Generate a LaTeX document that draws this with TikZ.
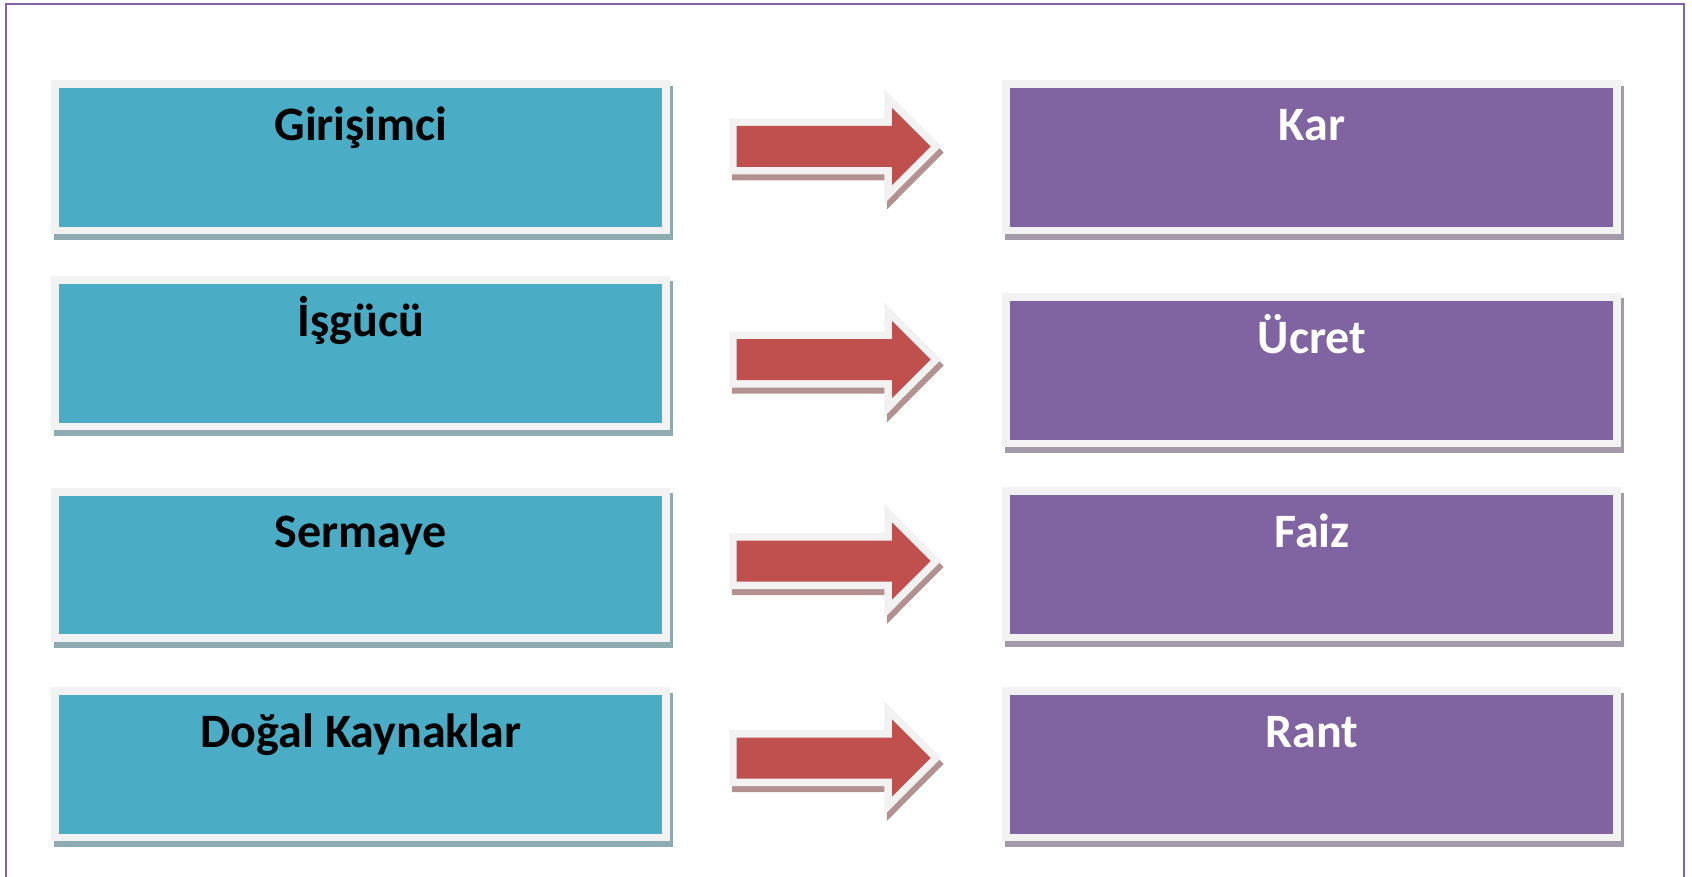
\documentclass[tikz,border=0pt]{standalone}
\usepackage{fontspec}
\setmainfont{Carlito}
\definecolor{tealA}{HTML}{4BACC6}
\definecolor{purpA}{HTML}{8064A2}
\definecolor{redA}{HTML}{C0504D}
\definecolor{rim}{HTML}{F2F2F2}
\definecolor{tealsh}{HTML}{8EAAB2}
\definecolor{purpsh}{HTML}{A299AA}
\definecolor{redsh}{HTML}{B39191}
\definecolor{framecol}{HTML}{8064A2}
\tikzset{
  boxtext/.style={font=\fontsize{24}{29}\bfseries\selectfont, anchor=base, inner sep=0pt},
}
% name, xleft, ytop, fill, shadow, textcolor, text
\newcommand\mybox[7]{%
  \fill[#5] (#2+3,#3+5.5) rectangle (#2+622,#3+160);
  \fill[rim] (#2,#3) rectangle (#2+619,#3+154);
  \fill[#4] (#2+7.5,#3+8) rectangle (#2+611,#3+146.5);
  \node[boxtext,text=#6] (#1) at (#2+310,#3+60) {#7};
}
% centre y
\newcommand\myarrow[1]{%
  \begin{scope}[shift={(2.5,6)}]
    \fill[redsh] (729.3,#1-28) -- (884.3,#1-28) -- (884.3,#1-57) -- (941,#1) -- (884.3,#1+57) -- (884.3,#1+28) -- (729.3,#1+28) -- cycle;
  \end{scope}
  \fill[rim] (729.3,#1-28) -- (884.3,#1-28) -- (884.3,#1-57) -- (941,#1) -- (884.3,#1+57) -- (884.3,#1+28) -- (729.3,#1+28) -- cycle;
  \fill[redA] (736.7,#1-20.5) -- (892,#1-20.5) -- (892,#1-38.5) -- (930.5,#1) -- (892,#1+38.5) -- (892,#1+20.5) -- (736.7,#1+20.5) -- cycle;
}
\begin{document}
\begin{tikzpicture}[x=0.5pt,y=-0.5pt]
\useasboundingbox (0,0) rectangle (1692,877);
\fill[white] (0,0) rectangle (1692,877);
\draw[framecol, line width=1pt] (6,877) -- (6,4.3) -- (1684,4.3) -- (1684,877);

\mybox{l1}{51}{80.5}{tealA}{tealsh}{black}{Girişimci}
\mybox{l2}{51}{276}{tealA}{tealsh}{black}{İşgücü}
\mybox{l3}{51}{487.5}{tealA}{tealsh}{black}{Sermaye}
\mybox{l4}{51}{687}{tealA}{tealsh}{black}{Doğal Kaynaklar}

\mybox{r1}{1002}{80.5}{purpA}{purpsh}{white}{Kar}
\mybox{r2}{1002}{293}{purpA}{purpsh}{white}{Ücret}
\mybox{r3}{1002}{487}{purpA}{purpsh}{white}{Faiz}
\mybox{r4}{1002}{687}{purpA}{purpsh}{white}{Rant}

\myarrow{146.5}
\myarrow{359.5}
\myarrow{561}
\myarrow{758}
\end{tikzpicture}
\end{document}
